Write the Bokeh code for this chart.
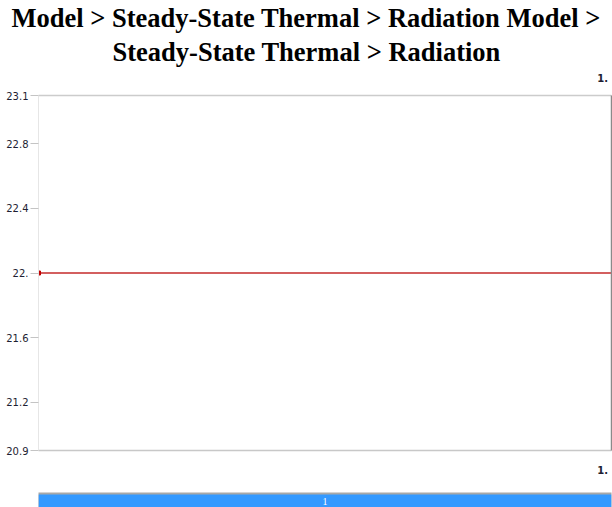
from bokeh.plotting import figure
from bokeh.models import Range1d, FixedTicker, LinearAxis, Title
from bokeh.layouts import column
from bokeh.embed import file_html
from bokeh.resources import INLINE

title_line1 = "Model > Steady-State Thermal > Radiation Model >"
title_line2 = "Steady-State Thermal  > Radiation"
times = [0.0, 1.0]
radiation = [22.0, 22.0]
y_ticks = [20.9, 21.2, 21.6, 22.0, 22.4, 22.8, 23.1]
y_tick_labels = ["20.9", "21.2", "21.6", "22.", "22.4", "22.8", "23.1"]
x_ticks = [1.0]
x_tick_labels = ["1."]
step_labels = ["1"]
step_start = [0.0]
step_end = [1.0]

LABEL_FONT = "DejaVu Sans"
LABEL_COLOR = "#1e1e32"
TITLE_FONT = "'Liberation Serif', 'Times New Roman', serif"

p = figure(width=612, height=492, output_backend="svg", toolbar_location=None,
           x_range=Range1d(min(times), max(times)), y_range=Range1d(min(y_ticks), max(y_ticks)),
           x_axis_location=None, y_axis_location=None,
           min_border_left=38, min_border_right=1, min_border_top=95, min_border_bottom=42)
p.outline_line_color = None
p.xgrid.visible = False
p.ygrid.visible = False
p.background_fill_color = "white"
p.border_fill_color = "white"

# left axis
la = LinearAxis(ticker=FixedTicker(ticks=y_ticks),
                major_label_overrides={t: l for t, l in zip(y_ticks, y_tick_labels)})
la.axis_line_color = "#e6e6e6"
la.major_tick_line_color = "#c4c4c4"
la.major_tick_out = 8
la.major_tick_in = 0
la.minor_tick_line_color = None
la.major_label_standoff = 2
la.major_label_text_font = LABEL_FONT
la.major_label_text_font_size = "10px"
la.major_label_text_color = LABEL_COLOR
p.add_layout(la, "left")

# bottom and top axes
def x_axis(standoff, color):
    ax = LinearAxis(ticker=FixedTicker(ticks=x_ticks),
                    major_label_overrides={t: l for t, l in zip(x_ticks, x_tick_labels)})
    ax.axis_line_color = color
    ax.axis_line_width = 1.5
    ax.major_tick_line_color = None
    ax.major_tick_out = 0
    ax.major_tick_in = 0
    ax.minor_tick_line_color = None
    ax.major_label_standoff = standoff
    ax.major_label_text_font = LABEL_FONT
    ax.major_label_text_font_size = "10px"
    ax.major_label_text_font_style = "bold"
    ax.major_label_text_color = LABEL_COLOR
    ax.major_label_text_align = "center"
    return ax

p.add_layout(x_axis(15, "#c8c8c8"), "below")
p.add_layout(x_axis(14, "#cccccc"), "above")

ra = LinearAxis(ticker=FixedTicker(ticks=[]))
ra.axis_line_color = "#8a8a8a"
ra.axis_line_width = 1.5
ra.major_tick_line_color = None
ra.minor_tick_line_color = None
p.add_layout(ra, "right")

# titles (add bottom line first); left-aligned with offsets so both lines centre on the page
for txt, so, off in [(title_line2, 8, 74), (title_line1, -4, -27)]:
    t = Title(text=txt, align="left", text_font=TITLE_FONT,
              text_font_size="26.5px", text_font_style="bold", text_color="black",
              standoff=so, offset=off)
    p.add_layout(t, "above")

p.line(times, radiation, line_color="#d35f5f", line_width=2)
p.scatter(times[:1], radiation[:1], marker="square", size=4, color="#c00000")

# time step bar
b = figure(width=612, height=15, output_backend="svg", toolbar_location=None,
           x_range=Range1d(min(step_start), max(step_end)), y_range=Range1d(0, 1),
           x_axis_location=None, y_axis_location=None,
           min_border_left=38, min_border_right=0, min_border_top=0, min_border_bottom=0)
b.outline_line_color = None
b.xgrid.visible = False
b.ygrid.visible = False
b.background_fill_color = "#a8a8a8"
b.border_fill_color = "white"
b.quad(left=step_start, right=step_end, bottom=0, top=0.87, fill_color="#3399ff", line_color=None)
b.text(x=[(s + e) / 2 for s, e in zip(step_start, step_end)], y=[0.43], text=step_labels,
       text_align="center", text_baseline="middle", text_color="white",
       text_font_size="10px", text_font="DejaVu Sans")

layout = column(p, b, spacing=0)
open("out.html", "w").write(file_html(layout, INLINE))
